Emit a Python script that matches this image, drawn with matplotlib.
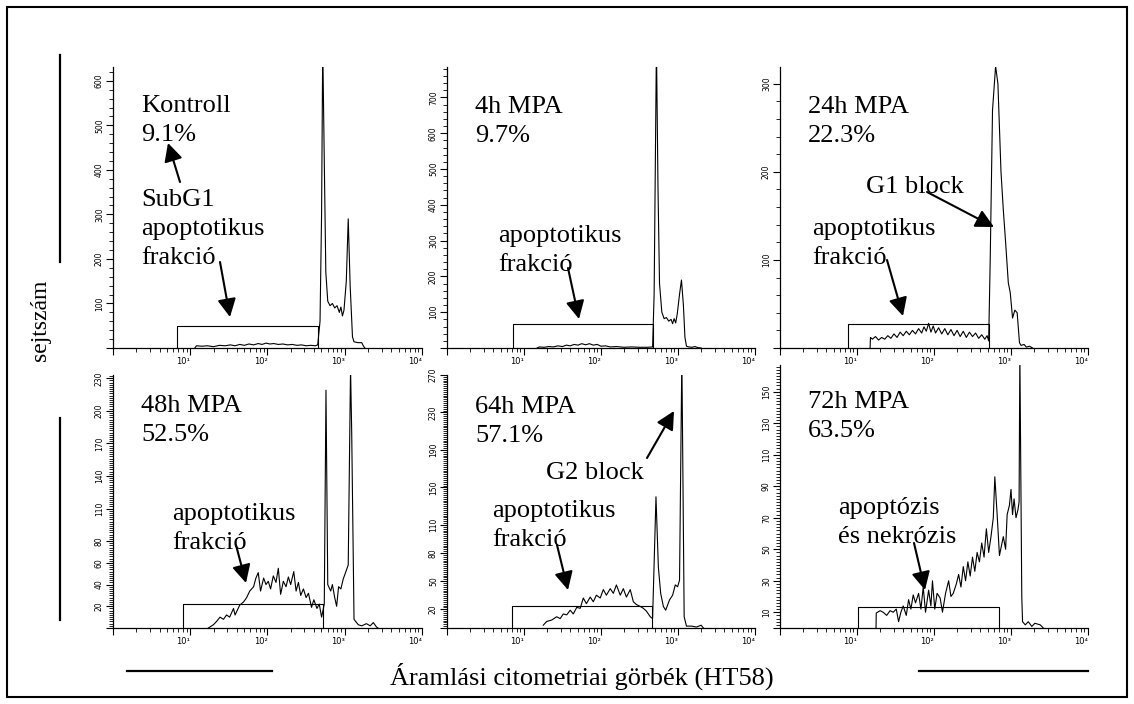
import matplotlib
matplotlib.use('Agg')
import matplotlib.pyplot as plt
from matplotlib.patches import Rectangle, FancyArrowPatch, ArrowStyle
from matplotlib.lines import Line2D
from matplotlib.ticker import LogLocator, MultipleLocator, NullFormatter
import numpy as np

W, H = 1134, 704

""" --- histograms: log10(fluorescence) and cell counts --- """
kontroll_lx = [1.06, 1.08, 1.15, 1.22, 1.30, 1.38, 1.45, 1.52, 1.58, 1.64, 1.70, 1.76,
               1.82, 1.88, 1.93, 1.98, 2.03, 2.08, 2.14, 2.20, 2.26, 2.32, 2.38, 2.44,
               2.50, 2.56, 2.62, 2.65, 2.68, 2.70, 2.715, 2.735, 2.755, 2.78, 2.81,
               2.84, 2.87, 2.90, 2.93, 2.95, 2.97, 2.99, 3.02, 3.045, 3.07, 3.10, 3.12,
               3.17, 3.22, 3.24, 3.26]
kontroll_n = [0, 5, 4, 5, 3, 6, 5, 7, 5, 8, 6, 9,
              7, 10, 8, 11, 9, 10, 8, 9, 7, 8, 6, 7,
              5, 6, 5, 7, 60, 300, 680, 420, 170, 105, 95,
              100, 90, 95, 80, 92, 72, 85, 150, 290, 140, 25, 14,
              12, 12, 5, 0]

h4_lx = [1.17, 1.20, 1.26, 1.32, 1.38, 1.44, 1.50, 1.55, 1.60, 1.65, 1.70, 1.75,
         1.80, 1.85, 1.90, 1.95, 2.00, 2.06, 2.12, 2.20, 2.30, 2.40, 2.50, 2.60,
         2.67, 2.69, 2.705, 2.72, 2.74, 2.76, 2.79, 2.82, 2.85, 2.88, 2.91, 2.93,
         2.95, 2.97, 2.99, 3.02, 3.045, 3.07, 3.09, 3.11, 3.14, 3.18, 3.22, 3.26, 3.30]
h4_n = [0, 3, 2, 4, 3, 6, 4, 8, 6, 10, 8, 12,
        9, 12, 8, 10, 5, 6, 3, 4, 2, 3, 2, 2,
        3, 150, 500, 850, 450, 180, 100, 82, 85, 75, 80, 68,
        82, 70, 95, 150, 190, 120, 30, 5, 3, 2, 4, 1, 0]

h24_lx = [1.17, 1.175, 1.20, 1.24, 1.28, 1.32, 1.36, 1.40, 1.44, 1.48, 1.52, 1.56,
          1.60, 1.64, 1.68, 1.72, 1.76, 1.80, 1.84, 1.87, 1.90, 1.93, 1.96, 1.99,
          2.02, 2.06, 2.10, 2.14, 2.18, 2.22, 2.26, 2.30, 2.34, 2.38, 2.42, 2.46,
          2.50, 2.54, 2.58, 2.62, 2.66, 2.69, 2.71, 2.73, 2.76, 2.80, 2.83, 2.87,
          2.90, 2.93, 2.965, 2.99, 3.02, 3.05, 3.08, 3.11, 3.13, 3.17, 3.20, 3.24, 3.28]
h24_n = [0, 12, 10, 13, 9, 12, 10, 14, 11, 16, 12, 18,
         14, 19, 15, 20, 16, 22, 17, 24, 19, 28, 18, 25,
         17, 23, 16, 22, 15, 21, 14, 20, 13, 19, 12, 18,
         13, 17, 11, 15, 10, 14, 8, 100, 270, 320, 300, 200,
         157, 120, 74, 63, 34, 43, 40, 6, 3, 4, 1, 2, 0]

h48_lx = [1.234, 1.30, 1.34, 1.385, 1.43, 1.47, 1.51, 1.56, 1.58, 1.64, 1.69, 1.73,
          1.77, 1.82, 1.85, 1.88, 1.91, 1.95, 1.98, 2.01, 2.04, 2.075, 2.11, 2.14,
          2.17, 2.205, 2.24, 2.27, 2.30, 2.34, 2.37, 2.40, 2.43, 2.465, 2.50, 2.53,
          2.57, 2.60, 2.64, 2.67, 2.70, 2.735, 2.757, 2.78, 2.818, 2.84, 2.87, 2.895,
          2.92, 2.95, 2.98, 3.015, 3.045, 3.075, 3.09, 3.12, 3.175, 3.22, 3.28, 3.33,
          3.37, 3.41, 3.43]
h48_n = [0, 3, 6, 10, 8, 12, 10, 18, 12, 21, 24, 28,
         34, 38, 46, 51, 34, 46, 40, 43, 36, 48, 42, 55,
         31, 43, 38, 47, 40, 52, 34, 42, 30, 36, 28, 32,
         19, 26, 18, 22, 10, 22, 219, 40, 34, 40, 28, 20,
         38, 36, 45, 52, 58, 240, 180, 8, 3, 2, 4, 2,
         5, 1, 0]

h64_lx = [1.25, 1.295, 1.36, 1.425, 1.47, 1.51, 1.555, 1.60, 1.64, 1.685, 1.73, 1.77,
          1.81, 1.86, 1.90, 1.94, 1.99, 2.03, 2.07, 2.12, 2.16, 2.20, 2.25, 2.29,
          2.33, 2.38, 2.42, 2.46, 2.51, 2.55, 2.59, 2.64, 2.67, 2.714, 2.745, 2.775,
          2.81, 2.84, 2.89, 2.93, 2.965, 2.995, 3.02, 3.05, 3.08, 3.11, 3.18, 3.24,
          3.30, 3.33]
h64_n = [3, 7, 8.5, 12, 10, 15, 14, 19, 15, 22, 21, 32,
         26, 33, 28, 35, 32, 41, 35, 42, 37, 46, 35, 42,
         33, 41, 28, 25, 23, 21, 18, 12, 10, 140, 65, 37,
         23, 19, 30, 35, 46, 44, 51, 290, 12, 2, 2, 1,
         3, 0]

h72_lx = [1.247, 1.25, 1.30, 1.34, 1.385, 1.43, 1.47, 1.51, 1.54, 1.57, 1.60, 1.64,
          1.67, 1.70, 1.73, 1.76, 1.80, 1.83, 1.86, 1.89, 1.93, 1.96, 1.98, 2.01,
          2.04, 2.08, 2.11, 2.15, 2.19, 2.22, 2.25, 2.29, 2.32, 2.35, 2.38, 2.41,
          2.44, 2.47, 2.50, 2.53, 2.56, 2.59, 2.62, 2.65, 2.68, 2.71, 2.74, 2.77,
          2.79, 2.82, 2.85, 2.875, 2.90, 2.93, 2.95, 2.98, 3.00, 3.02, 3.04, 3.065,
          3.09, 3.105, 3.115, 3.14, 3.15, 3.185, 3.225, 3.27, 3.31, 3.38, 3.42]
h72_n = [0, 9.5, 11, 10, 8, 11, 10, 12, 4, 10, 14, 8,
         18, 12, 21, 16, 22, 12, 26, 10, 24, 14, 30, 12,
         22, 19, 10, 22, 30, 20, 22, 28, 34, 26, 39, 30,
         42, 33, 45, 36, 48, 42, 54, 45, 63, 48, 58, 70,
         96, 72, 46, 52, 58, 50, 72, 78, 88, 72, 82, 70,
         75, 80, 175, 20, 4, 2, 4, 1, 3, 2, 0]

""" --- SubG1 gates: log10 start, log10 end, marker height --- """
gate_lo = [0.83, 0.857, 0.88, 0.90, 0.84, 1.01]
gate_hi = [2.65, 2.675, 2.71, 2.72, 2.66, 2.84]
gate_h = [49, 67, 27, 22, 23, 13.3]

""" --- y scales --- """
y_max = [631, 785, 319, 233, 269, 167]
y_labels = [[100, 200, 300, 400, 500, 600],
            [100, 200, 300, 400, 500, 600, 700],
            [100, 200, 300],
            [20, 40, 60, 80, 110, 140, 170, 200, 230],
            [20, 50, 80, 110, 150, 190, 230, 270],
            [10, 30, 50, 70, 90, 110, 130, 150]]
y_minor = [20, 20, 20, 2, 2, 2]

x_labels = ['', '10\u00b9', '10\u00b2', '10\u00b3', '10\u2074']

titles = ['Kontroll\n9.1%', '4h MPA\n9.7%', '24h MPA\n22.3%',
          '48h MPA\n52.5%', '64h MPA\n57.1%', '72h MPA\n63.5%']

series = [(kontroll_lx, kontroll_n), (h4_lx, h4_n), (h24_lx, h24_n),
          (h48_lx, h48_n), (h64_lx, h64_n), (h72_lx, h72_n)]

# axes boxes in pixels: left, top, right, bottom
boxes = [(113, 67, 422, 348), (447, 67, 755, 348), (780, 67, 1088, 348),
         (113, 375, 422, 628), (447, 375, 755, 628), (780, 365, 1088, 628)]


def fx(x):
    return x / W


def fy(y):
    return 1 - y / H


plt.rcParams['font.family'] = ['Liberation Serif', 'DejaVu Serif']
fig = plt.figure(figsize=(W / 100, H / 100), dpi=100)
fig.patch.set_facecolor('white')

axes = []
for i, (l, t, r, b) in enumerate(boxes):
    ax = fig.add_axes([fx(l), fy(b), fx(r) - fx(l), fy(t) - fy(b)])
    ax.set_facecolor('none')
    lx, n = series[i]
    ax.plot(10 ** np.array(lx), n, color='black', lw=0.8)
    glo, ghi = 10 ** gate_lo[i], 10 ** gate_hi[i]
    ax.plot([glo, glo, ghi, ghi], [0, gate_h[i], gate_h[i], 0], color='black', lw=0.8)

    ax.set_xscale('log')
    ax.set_xlim(1, 1e4)
    ax.set_ylim(0, y_max[i])
    for s in ['top', 'right']:
        ax.spines[s].set_visible(False)
    for s in ['left', 'bottom']:
        ax.spines[s].set_linewidth(0.9)

    ax.set_xticks([1, 10, 100, 1000, 10000])
    ax.set_xticklabels(x_labels, fontfamily='DejaVu Sans', fontsize=6, ha='right')
    ax.xaxis.set_minor_locator(LogLocator(base=10, subs=np.arange(2, 10)))
    ax.xaxis.set_minor_formatter(NullFormatter())

    ax.set_yticks([0] + y_labels[i])
    ax.set_yticklabels([''] + [str(v) for v in y_labels[i]],
                       fontfamily='DejaVu Sans', fontsize=5.5, rotation=90, va='center')
    ax.yaxis.set_minor_locator(MultipleLocator(y_minor[i]))

    ax.tick_params(which='major', direction='out', length=5, width=0.8, pad=1.5)
    ax.tick_params(which='minor', direction='out', length=3, width=0.6)
    axes.append(ax)

# panel labels, anchored at the baseline of their last line (pixels)
title_pos = [(141, 141), (475, 142), (808, 142), (141, 441), (475, 442), (808, 437)]
for (x, y), s in zip(title_pos, titles):
    fig.text(fx(x), fy(y), s, fontsize=19, va='baseline', ha='left', linespacing=1.42)

notes = [(141, 264, 'SubG1\napoptotikus\nfrakció'),
         (498, 271, 'apoptotikus\nfrakció'),
         (866, 193, 'G1 block'),
         (812, 264, 'apoptotikus\nfrakció'),
         (172, 549, 'apoptotikus\nfrakció'),
         (546, 479, 'G2 block'),
         (492, 546, 'apoptotikus\nfrakció'),
         (838, 543, 'apoptózis\nés nekrózis')]
for x, y, s in notes:
    fig.text(fx(x), fy(y), s, fontsize=19, va='baseline', ha='left', linespacing=1.42)

arrows = [((180, 182), (168, 143)),
          ((220, 262), (230, 317)),
          ((568, 268), (579, 319)),
          ((927, 192), (994, 227)),
          ((887, 260), (903, 316)),
          ((236, 545), (246, 583)),
          ((647, 458), (674, 411)),
          ((557, 545), (568, 590)),
          ((914, 543), (925, 590))]
head = ArrowStyle('-|>', head_length=0.55, head_width=0.28)
for (x0, y0), (x1, y1) in arrows:
    fig.add_artist(FancyArrowPatch((fx(x0), fy(y0)), (fx(x1), fy(y1)),
                                   transform=fig.transFigure, arrowstyle=head,
                                   mutation_scale=20, lw=1.5, color='black',
                                   shrinkA=0, shrinkB=0))

# axis captions and the rulers beside them
fig.text(fx(40), fy(320), 'sejtszám', rotation=90, fontsize=17, ha='center', va='center')
fig.text(fx(582), fy(685), 'Áramlási citometriai görbék (HT58)', fontsize=19,
         ha='center', va='baseline')
for xs, ys in [((60, 60), (55, 262)), ((60, 60), (418, 620)),
               ((127, 272), (671, 671)), ((919, 1088), (671, 671))]:
    fig.add_artist(Line2D([fx(v) for v in xs], [fy(v) for v in ys],
                          color='black', lw=1.6, transform=fig.transFigure))

fig.add_artist(Rectangle((fx(7), fy(697)), fx(1127) - fx(7), fy(7) - fy(697),
                         fill=False, edgecolor='black', lw=1.5, transform=fig.transFigure))

fig.savefig('out.png', dpi=100)
